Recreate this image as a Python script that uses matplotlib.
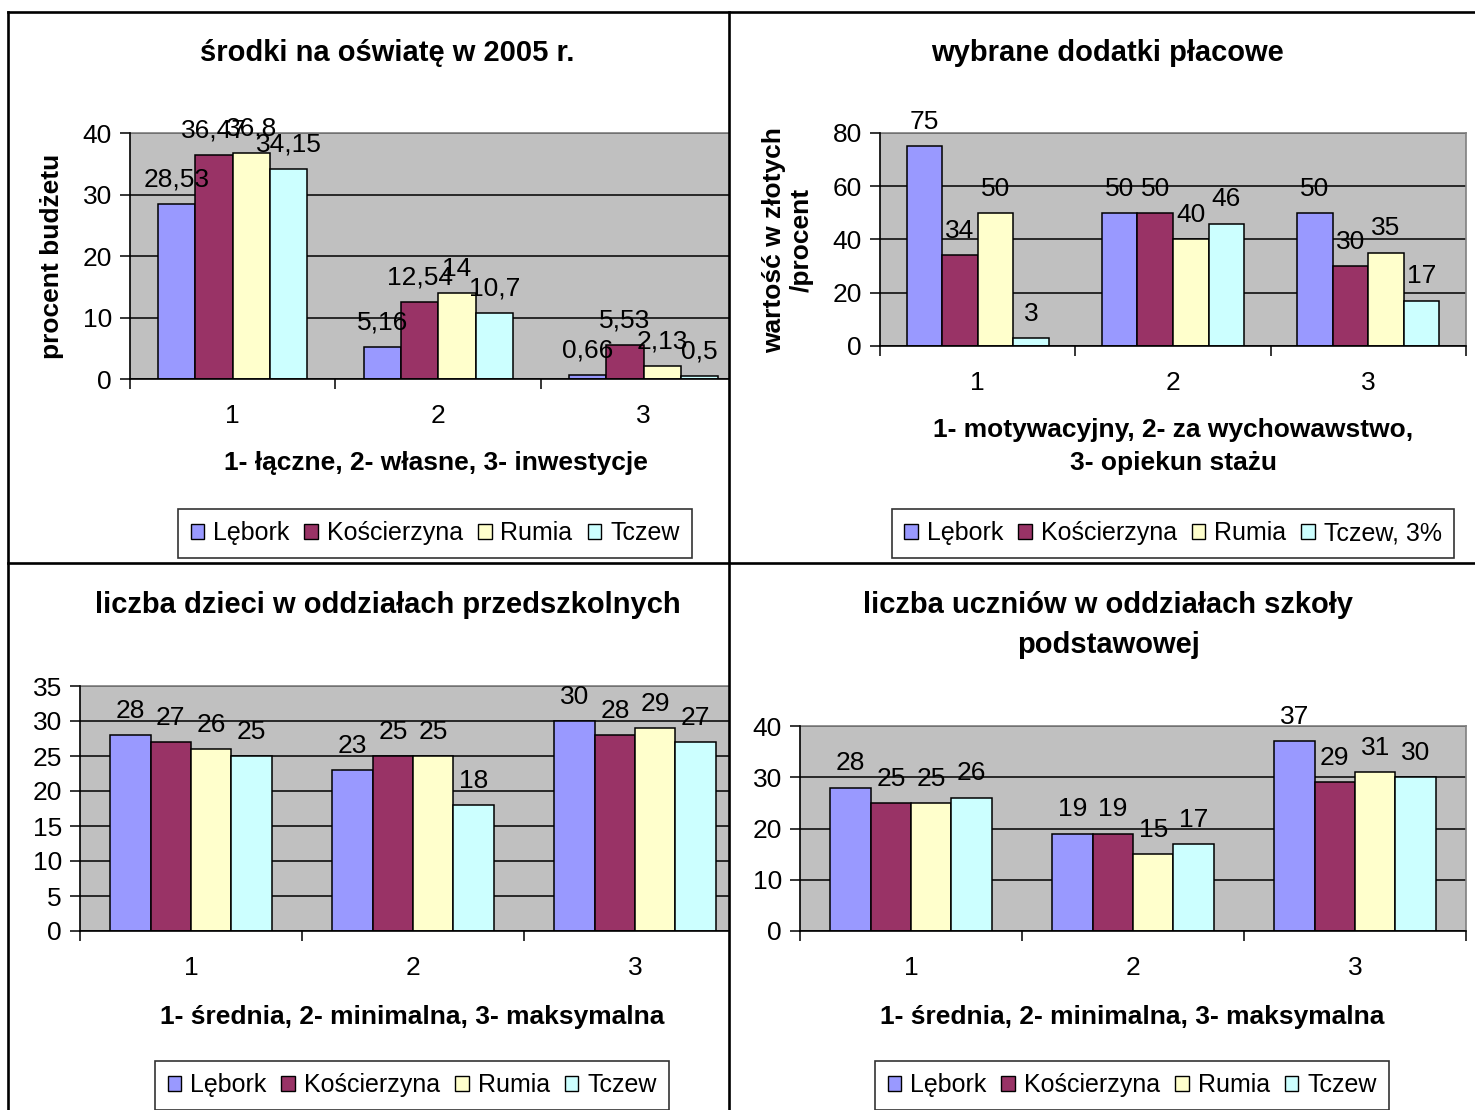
import matplotlib
matplotlib.use('Agg')
import matplotlib.pyplot as plt
from matplotlib.patches import Patch
from matplotlib.lines import Line2D
import numpy as np

plt.rcParams['font.family'] = ['Liberation Sans', 'DejaVu Sans']

W, H = 1475, 1110

# ---------------- data ----------------
series = ['Lębork', 'Kościerzyna', 'Rumia', 'Tczew']
series_p2 = ['Lębork', 'Kościerzyna', 'Rumia', 'Tczew, 3%']
colors = ['#9999FF', '#993366', '#FFFFCC', '#CCFFFF']
categories = ['1', '2', '3']

# panel 1: środki na oświatę w 2005 r.
p1_lebork = [28.53, 5.16, 0.66]
p1_koscierzyna = [36.47, 12.54, 5.53]
p1_rumia = [36.8, 14, 2.13]
p1_tczew = [34.15, 10.7, 0.5]

# panel 2: wybrane dodatki płacowe
p2_lebork = [75, 50, 50]
p2_koscierzyna = [34, 50, 30]
p2_rumia = [50, 40, 35]
p2_tczew = [3, 46, 17]

# panel 3: liczba dzieci w oddziałach przedszkolnych
p3_lebork = [28, 23, 30]
p3_koscierzyna = [27, 25, 28]
p3_rumia = [26, 25, 29]
p3_tczew = [25, 18, 27]

# panel 4: liczba uczniów w oddziałach szkoły podstawowej
p4_lebork = [28, 19, 37]
p4_koscierzyna = [25, 19, 29]
p4_rumia = [25, 15, 31]
p4_tczew = [26, 17, 30]

p1_ticks = [0, 10, 20, 30, 40]
p2_ticks = [0, 20, 40, 60, 80]
p3_ticks = [0, 5, 10, 15, 20, 25, 30, 35]
p4_ticks = [0, 10, 20, 30, 40]

# ---------------- drawing ----------------
fig = plt.figure(figsize=(W / 100, H / 100), dpi=100)
fig.patch.set_facecolor('white')

FS_TITLE = 21
FS_AXL = 19
FS_TICK = 19
FS_LAB = 19
FS_LEG = 18


def px_axes(l, t, r, b):
    return fig.add_axes([l / W, 1 - b / H, (r - l) / W, (b - t) / H])


def fig_text(x, y, s, **kw):
    fig.text(x / W, 1 - y / H, s, ha='center', va='center', **kw)


def fmt(v):
    return f'{v:g}'.replace('.', ',')


def draw_panel(ax, data, yticks, cat_w_px, ax_w_px, right_border=True):
    n = len(data)
    w = 1 / 5.5
    x = np.arange(1, len(categories) + 1)
    for i, vals in enumerate(data):
        xs = x + (i - (n - 1) / 2) * w
        ax.bar(xs, vals, w, color=colors[i], edgecolor='black', linewidth=1.1, zorder=3)
        for xx, v in zip(xs, vals):
            ax.annotate(fmt(v), (xx, v), xytext=(0, 12.5), textcoords='offset points',
                        ha='center', va='baseline', fontsize=FS_LAB, zorder=5,
                        annotation_clip=False)
    ax.set_facecolor('#C0C0C0')
    ax.set_yticks(yticks)
    ax.set_yticklabels([str(t) for t in yticks])
    ax.set_xticks(x)
    ax.set_xticklabels(categories)
    ax.set_xticks([0.5, 1.5, 2.5, 3.5], minor=True)
    ax.set_ylim(yticks[0], yticks[-1])
    ax.set_xlim(0.5, 0.5 + ax_w_px / cat_w_px)
    ax.tick_params(axis='x', which='major', length=0, pad=18, labelsize=FS_TICK)
    ax.tick_params(axis='x', which='minor', length=7, width=1.1, direction='out')
    ax.tick_params(axis='y', length=7, width=1.1, pad=6, labelsize=FS_TICK)
    ax.yaxis.grid(True, color='black', linewidth=1.1)
    ax.set_axisbelow(True)
    for s in ['left', 'bottom']:
        ax.spines[s].set_color('black')
        ax.spines[s].set_linewidth(1.2)
        ax.spines[s].set_zorder(4)
    ax.spines['top'].set_color('#808080')
    ax.spines['top'].set_linewidth(1.2)
    ax.spines['right'].set_color('#808080')
    ax.spines['right'].set_linewidth(1.2)
    ax.spines['right'].set_visible(right_border)


def legend(cx, cy, labels):
    handles = [Patch(facecolor=c, edgecolor='black', linewidth=1.0) for c in colors]
    lg = fig.legend(handles, labels, loc='center', bbox_to_anchor=(cx / W, 1 - cy / H),
                    ncol=4, frameon=True, fancybox=False, edgecolor='black',
                    handlelength=0.55, handleheight=0.55, handletextpad=0.35,
                    columnspacing=0.6, borderpad=0.5, fontsize=FS_LEG,
                    borderaxespad=0)
    lg.get_frame().set_linewidth(1.2)


# panel 1
ax1 = px_axes(130, 133, 729, 379)
draw_panel(ax1, [p1_lebork, p1_koscierzyna, p1_rumia, p1_tczew], p1_ticks, 205.5, 599, False)
fig_text(387, 53, 'środki na oświatę w 2005 r.', fontsize=FS_TITLE, fontweight='bold')
fig_text(52, 256, 'procent budżetu', fontsize=FS_AXL, fontweight='bold', rotation=90)
fig_text(436, 463, '1- łączne, 2- własne, 3- inwestycje', fontsize=FS_AXL, fontweight='bold')
legend(435, 533, series)

# panel 2
ax2 = px_axes(880, 133, 1466, 346)
draw_panel(ax2, [p2_lebork, p2_koscierzyna, p2_rumia, p2_tczew], p2_ticks, 586 / 3, 586)
fig_text(1107, 53, 'wybrane dodatki płacowe', fontsize=FS_TITLE, fontweight='bold')
fig_text(788, 240, 'wartość w złotych\n/procent', fontsize=FS_AXL, fontweight='bold',
         rotation=90, linespacing=1.2)
fig_text(1173, 430, '1- motywacyjny, 2- za wychowawstwo,', fontsize=FS_AXL, fontweight='bold')
fig_text(1173, 463, '3- opiekun stażu', fontsize=FS_AXL, fontweight='bold')
legend(1173, 533, series_p2)

# panel 3
ax3 = px_axes(80, 686, 729, 931)
draw_panel(ax3, [p3_lebork, p3_koscierzyna, p3_rumia, p3_tczew], p3_ticks, 222, 649, False)
fig_text(388, 605, 'liczba dzieci w oddziałach przedszkolnych', fontsize=FS_TITLE, fontweight='bold')
fig_text(412, 1017, '1- średnia, 2- minimalna, 3- maksymalna', fontsize=FS_AXL, fontweight='bold')
legend(412, 1085, series)

# panel 4
ax4 = px_axes(800, 726, 1466, 931)
draw_panel(ax4, [p4_lebork, p4_koscierzyna, p4_rumia, p4_tczew], p4_ticks, 222, 666)
fig_text(1108, 605, 'liczba uczniów w oddziałach szkoły', fontsize=FS_TITLE, fontweight='bold')
fig_text(1108, 645, 'podstawowej', fontsize=FS_TITLE, fontweight='bold')
fig_text(1132, 1017, '1- średnia, 2- minimalna, 3- maksymalna', fontsize=FS_AXL, fontweight='bold')
legend(1132, 1085, series)

# panel frame lines
def fline(x0, y0, x1, y1):
    fig.add_artist(Line2D([x0 / W, x1 / W], [1 - y0 / H, 1 - y1 / H], color='black',
                          linewidth=1.9, transform=fig.transFigure, zorder=10))

fline(8, 12, W, 12)
fline(8, 12, 8, H)
fline(729, 12, 729, H)
fline(8, 563, W, 563)

fig.savefig('out.png', dpi=100, facecolor='white')
